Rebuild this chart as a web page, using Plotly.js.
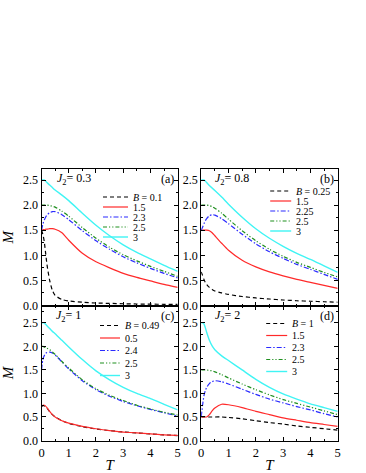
<!DOCTYPE html>
<html>
<head>
<meta charset="utf-8">
<script src="https://cdn.plot.ly/plotly-3.0.1.min.js"></script>
<style>
  html, body { margin: 0; padding: 0; background: #fff; }
  #plot { width: 366px; height: 473px; }
</style>
</head>
<body>
<div id="plot"></div>
<script>
// temperature grid shared by all curves
var T = [0, 0.05, 0.1, 0.15, 0.2, 0.3, 0.4, 0.5, 0.75, 1, 1.5, 2, 2.5, 3, 3.5, 4, 4.5, 5];

// (a) J2 = 0.3
var a_b01 = [1.5, 1.42, 1.28, 1.05, 0.82, 0.5, 0.3, 0.2, 0.12, 0.09, 0.065, 0.05, 0.042, 0.035, 0.03, 0.027, 0.024, 0.022];
var a_b15 = [1.5, 1.51, 1.51, 1.52, 1.52, 1.53, 1.53, 1.52, 1.45, 1.3, 1.04, 0.87, 0.75, 0.64, 0.56, 0.49, 0.42, 0.36];
var a_b23 = [1.5, 1.62, 1.7, 1.76, 1.8, 1.85, 1.87, 1.87, 1.81, 1.71, 1.49, 1.29, 1.12, 0.97, 0.85, 0.74, 0.64, 0.55];
var a_b25 = [2.0, 2.0, 2.0, 2.0, 2.0, 1.99, 1.98, 1.96, 1.88, 1.78, 1.55, 1.34, 1.16, 1.01, 0.89, 0.78, 0.68, 0.58];
var a_b3 = [2.5, 2.5, 2.5, 2.48, 2.45, 2.4, 2.35, 2.3, 2.2, 2.09, 1.84, 1.6, 1.39, 1.21, 1.06, 0.93, 0.8, 0.68];

// (b) J2 = 0.8
var b_b025 = [0.67, 0.6, 0.52, 0.46, 0.42, 0.36, 0.32, 0.29, 0.25, 0.22, 0.18, 0.15, 0.13, 0.11, 0.095, 0.085, 0.075, 0.065];
var b_b15 = [1.5, 1.5, 1.5, 1.5, 1.5, 1.49, 1.45, 1.39, 1.24, 1.1, 0.9, 0.77, 0.67, 0.59, 0.52, 0.46, 0.4, 0.34];
var b_b225 = [1.5, 1.56, 1.63, 1.69, 1.73, 1.79, 1.81, 1.8, 1.73, 1.63, 1.42, 1.23, 1.07, 0.94, 0.82, 0.72, 0.62, 0.52];
var b_b25 = [2.0, 2.0, 2.0, 2.0, 2.0, 1.99, 1.97, 1.94, 1.84, 1.72, 1.49, 1.29, 1.12, 0.98, 0.86, 0.76, 0.66, 0.57];
var b_b3 = [2.5, 2.5, 2.5, 2.48, 2.45, 2.39, 2.34, 2.29, 2.16, 2.02, 1.76, 1.53, 1.34, 1.18, 1.04, 0.92, 0.79, 0.66];

// (c) J2 = 1
var c_b049 = [0.72, 0.74, 0.74, 0.72, 0.69, 0.61, 0.55, 0.5, 0.42, 0.365, 0.295, 0.245, 0.21, 0.18, 0.16, 0.14, 0.12, 0.105];
var c_b05 = [0.73, 0.75, 0.75, 0.73, 0.7, 0.62, 0.55, 0.5, 0.42, 0.37, 0.3, 0.25, 0.21, 0.18, 0.16, 0.14, 0.12, 0.11];
var c_b24 = [1.5, 1.72, 1.8, 1.85, 1.87, 1.88, 1.86, 1.82, 1.67, 1.52, 1.27, 1.08, 0.94, 0.83, 0.74, 0.66, 0.59, 0.52];
var c_b25 = [2.0, 2.0, 1.99, 1.97, 1.96, 1.93, 1.88, 1.83, 1.68, 1.54, 1.29, 1.1, 0.96, 0.85, 0.75, 0.67, 0.6, 0.54];
var c_b3 = [2.5, 2.5, 2.5, 2.47, 2.44, 2.38, 2.32, 2.27, 2.13, 1.99, 1.72, 1.48, 1.29, 1.13, 1.0, 0.89, 0.77, 0.65];

// (d) J2 = 2
var d_b1 = [0.5, 0.5, 0.5, 0.5, 0.5, 0.5, 0.5, 0.5, 0.5, 0.49, 0.46, 0.42, 0.38, 0.35, 0.31, 0.28, 0.25, 0.22];
var d_b15 = [0.5, 0.5, 0.5, 0.5, 0.5, 0.55, 0.63, 0.69, 0.77, 0.76, 0.7, 0.62, 0.55, 0.48, 0.43, 0.38, 0.34, 0.3];
var d_b23 = [0.5, 0.75, 0.95, 1.06, 1.13, 1.21, 1.25, 1.27, 1.25, 1.2, 1.09, 0.98, 0.88, 0.8, 0.72, 0.65, 0.57, 0.5];
var d_b25 = [1.5, 1.5, 1.5, 1.5, 1.5, 1.49, 1.48, 1.46, 1.4, 1.33, 1.2, 1.08, 0.97, 0.87, 0.79, 0.71, 0.63, 0.55];
var d_b3 = [2.5, 2.5, 2.48, 2.4, 2.3, 2.13, 2.01, 1.93, 1.8, 1.7, 1.5, 1.3, 1.13, 0.99, 0.88, 0.78, 0.7, 0.62];

// labels
var j2Vals = ['0.3', '0.8', '1', '2'];
var tags = ['(a)', '(b)', '(c)', '(d)'];
var bA = ['0.1', '1.5', '2.3', '2.5', '3'];
var bB = ['0.25', '1.5', '2.25', '2.5', '3'];
var bC = ['0.49', '0.5', '2.4', '2.5', '3'];
var bD = ['1', '1.5', '2.3', '2.5', '3'];

var styles = [
  {color: '#000000', dash: '4px,3px', width: 1.2},
  {color: '#ff2a2a', dash: 'solid', width: 1.2},
  {color: '#2b2bff', dash: '5px,2px,1.5px,2px', width: 1.2},
  {color: '#1f8f1f', dash: '4px,2px,1.2px,2px,1.2px,2px', width: 1.2},
  {color: '#40f4f4', dash: 'solid', width: 1.4}
];

var panels = [
  {series: [a_b01, a_b15, a_b23, a_b25, a_b3], labels: bA},
  {series: [b_b025, b_b15, b_b225, b_b25, b_b3], labels: bB},
  {series: [c_b049, c_b05, c_b24, c_b25, c_b3], labels: bC},
  {series: [d_b1, d_b15, d_b23, d_b25, d_b3], labels: bD}
];

var W = 366, H = 473;
// panel pixel boxes [left, right, top, bottom]
var boxes = [
  [41.5, 177.7, 169, 305.5],
  [201.2, 337.7, 169, 305.5],
  [41.5, 177.7, 305.5, 440.5],
  [201.2, 337.7, 305.5, 440.5]
];
// legend placement inside each panel, px from panel left/top
var leg = [
  {x0: 61.5, len: 25, y0: 28, dy: 10},
  {x0: 69, len: 21, y0: 22, dy: 10},
  {x0: 58.5, len: 20, y0: 20, dy: 12.5},
  {x0: 65, len: 21, y0: 18, dy: 12}
];
var jPos = [[13, 10], [12, 10], [12, 10], [12, 10]];

var serif = 'Liberation Serif, Times New Roman, serif';
var data = [], shapes = [], annotations = [];
var layout = {
  width: W, height: H,
  margin: {l: 0, r: 0, t: 0, b: 0},
  paper_bgcolor: '#fff', plot_bgcolor: '#fff',
  showlegend: false,
  font: {family: serif, size: 11, color: '#000'}
};

panels.forEach(function (p, i) {
  var n = i + 1;
  var xa = n === 1 ? 'x' : 'x' + n, ya = n === 1 ? 'y' : 'y' + n;
  var b = boxes[i];
  var pw = b[1] - b[0], ph = b[3] - b[2];
  var bottomRow = i >= 2;
  p.series.forEach(function (s, k) {
    data.push({
      x: T, y: s, xaxis: xa, yaxis: ya,
      type: 'scatter', mode: 'lines',
      line: {color: styles[k].color, dash: styles[k].dash, width: styles[k].width, shape: 'spline', smoothing: 0.6},
      hoverinfo: 'skip'
    });
  });
  var ax = {
    domain: [b[0] / W, b[1] / W], anchor: ya, range: [0, 5],
    dtick: 1, tick0: 0, ticks: 'inside', ticklen: 4, tickwidth: 1, tickcolor: '#000',
    minor: {dtick: 0.5, ticks: 'inside', ticklen: 2, tickcolor: '#000'},
    showline: true, linecolor: '#000', linewidth: 1, mirror: 'allticks',
    showgrid: false, zeroline: false, showticklabels: bottomRow,
    tickfont: {family: serif, size: 12.5}
  };
  if (bottomRow) ax.title = {text: '<i>T</i>', font: {family: serif, size: 15}, standoff: 1};
  var ay = {
    domain: [1 - b[3] / H, 1 - b[2] / H], anchor: xa, range: [0, bottomRow ? 2.87 : 2.72],
    dtick: 0.5, tick0: 0, ticks: 'inside', ticklen: 4, tickwidth: 1, tickcolor: '#000',
    minor: {dtick: 0.25, ticks: 'inside', ticklen: 2, tickcolor: '#000'},
    showline: true, linecolor: '#000', linewidth: 1, mirror: 'allticks',
    showgrid: false, zeroline: false, tickformat: '.1f',
    tickfont: {family: serif, size: 12}
  };
  if (i % 2 === 0) ay.title = {text: '<i>M</i>', font: {family: serif, size: 15}, standoff: 5};
  layout[n === 1 ? 'xaxis' : 'xaxis' + n] = ax;
  layout[n === 1 ? 'yaxis' : 'yaxis' + n] = ay;

  var xd = xa + ' domain', yd = ya + ' domain';
  annotations.push({
    xref: xd, yref: yd, x: jPos[i][0] / pw, y: 1 - jPos[i][1] / ph,
    xanchor: 'left', yanchor: 'middle', showarrow: false,
    text: '<i>J</i><sub>2</sub>= ' + j2Vals[i], font: {family: serif, size: 12}
  });
  annotations.push({
    xref: xd, yref: yd, x: 1 - 2 / pw, y: 1 - 10 / ph,
    xanchor: 'right', yanchor: 'middle', showarrow: false,
    text: tags[i], font: {family: serif, size: 12}
  });
  var L = leg[i];
  p.labels.forEach(function (lab, k) {
    var yy = 1 - (L.y0 + k * L.dy) / ph;
    shapes.push({
      type: 'line', xref: xd, yref: yd,
      x0: L.x0 / pw, x1: (L.x0 + L.len) / pw, y0: yy, y1: yy,
      line: {color: styles[k].color, dash: styles[k].dash, width: styles[k].width}
    });
    annotations.push({
      xref: xd, yref: yd, x: (L.x0 + L.len + 3) / pw, y: yy,
      xanchor: 'left', yanchor: 'middle', showarrow: false,
      text: (k === 0 ? '<i>B</i> = ' : '') + lab, font: {family: serif, size: 10}
    });
  });
});

layout.shapes = shapes;
layout.annotations = annotations;
Plotly.newPlot('plot', data, layout, {staticPlot: true, displayModeBar: false});
</script>
</body>
</html>
